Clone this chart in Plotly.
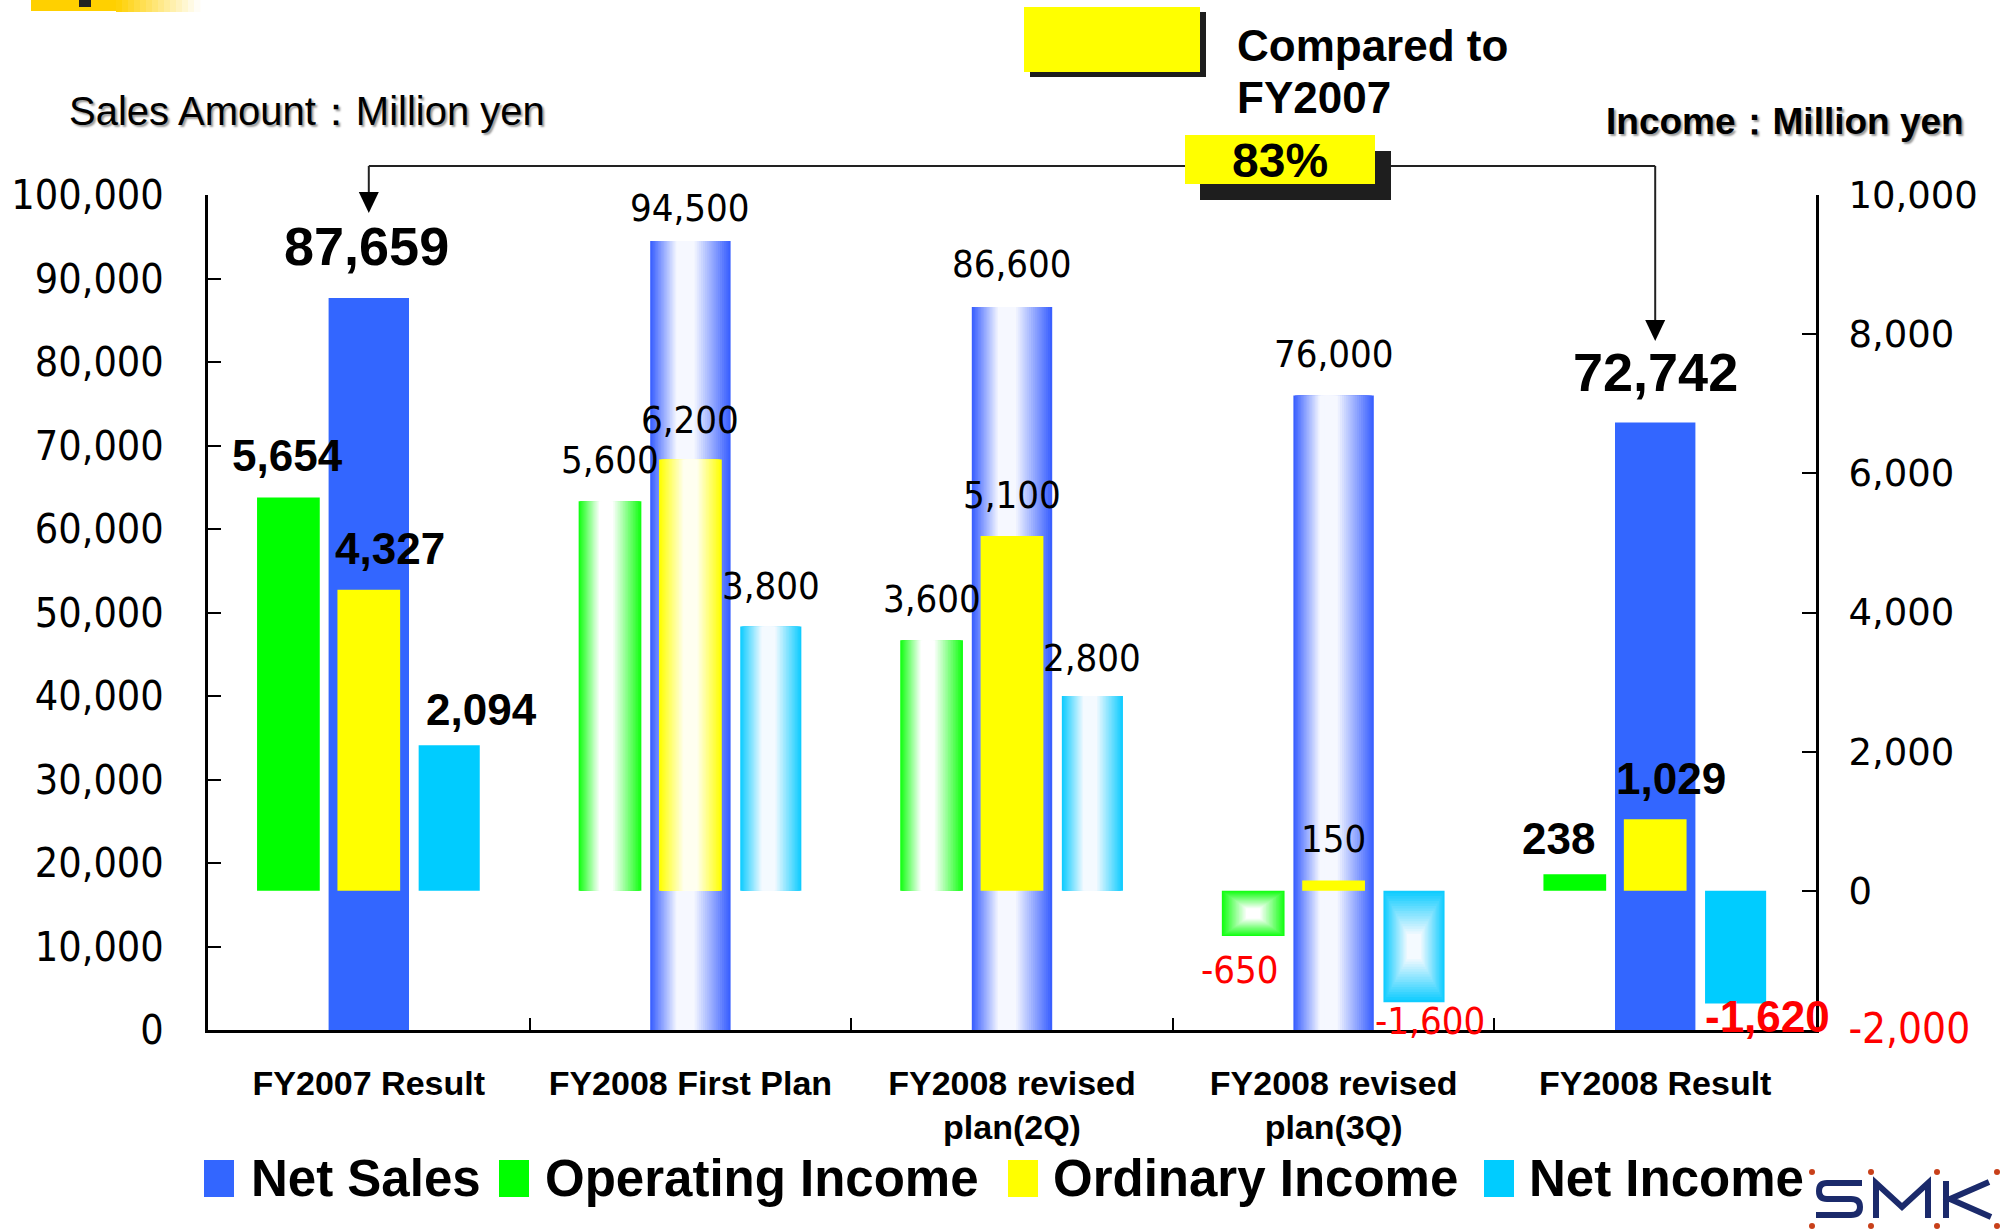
import plotly.graph_objects as go

# ---- data -------------------------------------------------------------
categories = [
    "FY2007 Result",
    "FY2008 First Plan",
    "FY2008 revised<br>plan(2Q)",
    "FY2008 revised<br>plan(3Q)",
    "FY2008 Result",
]
net_sales = [87659, 94500, 86600, 76000, 72742]          # left axis
operating_income = [5654, 5600, 3600, -650, 238]         # right axis
ordinary_income = [4327, 6200, 5100, 150, 1029]          # right axis
net_income = [2094, 3800, 2800, -1600, -1620]            # right axis

sales_ticks = list(range(0, 100001, 10000))
income_ticks = list(range(-2000, 10001, 2000))

ratio_text = "83%"

# ---- page geometry ----------------------------------------------------
W, H = 2002, 1230
ML, MR, MT, MB = 208, 186, 195, 200
PW, PH = W - ML - MR, H - MT - MB


def px(X):
    return (X - ML) / PW


def py(Y):
    return (H - MB - Y) / PH


NARROW = "DejaVu Sans Condensed, Liberation Sans Narrow, Arial Narrow, sans-serif"
SANS = "Liberation Sans, Arial, sans-serif"
WIDE = "DejaVu Sans, Verdana, sans-serif"


def mix(c1, c2, t):
    a = [int(c1[i:i + 2], 16) for i in (1, 3, 5)]
    b = [int(c2[i:i + 2], 16) for i in (1, 3, 5)]
    return "#" + "".join(f"{round(a[i] + (b[i] - a[i]) * t):02x}" for i in range(3))


# per-series styling: fill per category ('solid', 'h' = horizontal sheen, 'box' = framed glow)
series = [
    dict(name="Net Sales", values=net_sales, axis="y", solid="#3366FF", edge="#3A60FF",
         center="#F6F8FF", width=0.25, off=0.0, p=0.42,
         fill=["solid", "h", "h", "h", "solid"]),
    dict(name="Operating Income", values=operating_income, axis="y2", solid="#00FF00",
         edge="#14FF14", center="#FFFFFF", width=0.195, off=-0.25, p=0.42,
         fill=["solid", "h", "h", "box", "solid"]),
    dict(name="Ordinary Income", values=ordinary_income, axis="y2", solid="#FFFF00",
         edge="#FFFF00", center="#FFFFF0", width=0.195, off=0.0, p=0.5,
         fill=["solid", "h", "solid", "solid", "solid"]),
    dict(name="Net Income", values=net_income, axis="y2", solid="#00CCFF",
         edge="#10CCFF", center="#F4FAFF", width=0.19, off=0.25, p=0.45,
         fill=["solid", "h", "h", "box", "solid"]),
]

fig = go.Figure()
N_LAYERS = 22

for s in series:
    # plain coloured bars
    idx = [i for i, f in enumerate(s["fill"]) if f == "solid"]
    fig.add_trace(go.Bar(
        x=idx, y=[s["values"][i] for i in idx], base=[0] * len(idx),
        offset=[s["off"] - s["width"] / 2] * len(idx), width=[s["width"]] * len(idx),
        marker=dict(color=s["solid"], line=dict(width=0)),
        yaxis=s["axis"], name=s["name"], showlegend=False, hoverinfo="x+y",
    ))
    # shaded bars built up from nested layers
    for i, f in enumerate(s["fill"]):
        if f == "solid":
            continue
        v = s["values"][i]
        y0, y1 = (0, v) if v >= 0 else (v, 0)
        p = s["p"] if f == "h" else 0.5
        w = s["width"]
        xc = i + s["off"]
        for k in range(N_LAYERS):
            t = k / N_LAYERS
            left = xc - w / 2 + t * p * w
            right = xc + w / 2 - t * (1 - p) * w
            if f == "box":
                h = y1 - y0
                b0, b1 = y0 + t * h / 2, y1 - t * h / 2
            else:
                b0, b1 = y0, y1
            col = mix(s["edge"], s["center"], min(1.0, t * 1.3))
            fig.add_trace(go.Bar(
                x=[i], y=[b1 - b0], base=[b0], offset=[left - i], width=[right - left],
                marker=dict(color=col, line=dict(width=0)),
                yaxis=s["axis"], showlegend=False, hoverinfo="skip",
            ))

# ---- value labels -----------------------------------------------------
label_dx = {
    "Net Sales": [-0.008, 0, 0, 0, 0],
    "Operating Income": [-0.254, -0.25, -0.25, -0.29, -0.30],
    "Ordinary Income": [0.067, 0, 0, 0, 0.048],
    "Net Income": [0.349, 0.25, 0.25, 0.30, 0.35],
}
label_dy = {
    "Net Sales": [52, 33, 43, 41, 51],
    "Operating Income": [42, 41, 41, -34, 36],
    "Ordinary Income": [41, 39, 41, 41, 41],
    "Net Income": [36, 40, 38, -19, -13],
}
result_cats = {0, 4}

annotations = []
for s in series:
    for i, v in enumerate(s["values"]):
        bold = i in result_cats
        if bold:
            size = 54 if s["name"] == "Net Sales" else 44
            font = dict(family=SANS, size=size, weight="bold")
        else:
            font = dict(family=NARROW, size=38)
        font["color"] = "#FF0000" if v < 0 else "#000000"
        annotations.append(dict(
            x=i + label_dx[s["name"]][i], y=v, xref="x", yref=s["axis"],
            yshift=label_dy[s["name"]][i], text=f"{v:,}", showarrow=False,
            xanchor="center", yanchor="middle", font=font,
        ))

# ---- header texts -----------------------------------------------------
shadow = "2px 2px 2px #9a9a9a"
annotations += [
    dict(x=px(67), y=py(111), xref="paper", yref="paper", xanchor="left", yanchor="middle",
         text="Sales Amount：Million yen", showarrow=False,
         font=dict(family=SANS, size=40, color="#000000", shadow=shadow)),
    dict(x=px(1604), y=py(122), xref="paper", yref="paper", xanchor="left", yanchor="middle",
         text="Income：Million yen", showarrow=False,
         font=dict(family=SANS, size=37, color="#000000", weight="bold", shadow=shadow)),
    dict(x=px(1235), y=py(46), xref="paper", yref="paper", xanchor="left", yanchor="middle",
         text="Compared to", showarrow=False,
         font=dict(family=SANS, size=44, color="#000000", weight="bold")),
    dict(x=px(1235), y=py(97), xref="paper", yref="paper", xanchor="left", yanchor="middle",
         text="FY2007", showarrow=False,
         font=dict(family=SANS, size=44, color="#000000", weight="bold")),
    dict(x=px(1280), y=py(160), xref="paper", yref="paper", xanchor="center", yanchor="middle",
         text=ratio_text, showarrow=False,
         font=dict(family=SANS, size=48, color="#000000", weight="bold")),
]

# ---- legend (drawn by hand for large swatches) ------------------------
legend_items = [
    (204, 249, "Net Sales", "#3366FF"),
    (499, 543, "Operating Income", "#00FF00"),
    (1008, 1051, "Ordinary Income", "#FFFF00"),
    (1484, 1527, "Net Income", "#00CCFF"),
]
shapes = []

# connector between the two results
y_line = py(166)
shapes += [
    dict(type="line", xref="x", yref="paper", x0=0, x1=0, y0=y_line, y1=py(200),
         line=dict(color="#222222", width=2)),
    dict(type="line", xref="x", yref="paper", x0=0, x1=4, y0=y_line, y1=y_line,
         line=dict(color="#222222", width=2)),
    dict(type="line", xref="x", yref="paper", x0=4, x1=4, y0=y_line, y1=py(330),
         line=dict(color="#222222", width=2)),
]
for cat, tip in ((0, 213), (4, 341)):
    shapes.append(dict(
        type="path", xref="x", yref="paper", xsizemode="pixel", ysizemode="pixel",
        xanchor=cat, yanchor=py(tip), path="M -10,21 L 10,21 L 0,0 Z",
        fillcolor="#000000", line=dict(width=0),
    ))


def rect(X0, Y0, X1, Y1, color):
    return dict(type="rect", xref="paper", yref="paper", x0=px(X0), x1=px(X1),
                y0=py(Y1), y1=py(Y0), fillcolor=color, line=dict(width=0), layer="above")


# boxes at the top
shapes += [
    rect(1030, 12, 1206, 77, "#1e1e1e"),
    rect(1024, 7, 1200, 72, "#FFFF00"),
    rect(1200, 151, 1391, 200, "#1e1e1e"),
    rect(1185, 135, 1375, 184, "#FFFF00"),
]

# top-left page band
GOLD = "#FFD000"
shapes.append(rect(31, 0, 117, 11, GOLD))
for k in range(14):
    x0 = 116 + k * 6
    shapes.append(rect(x0, 0, x0 + 6.5, 12, mix(GOLD, "#FFFFFF", (k + 0.5) / 14)))
shapes.append(rect(79, 0, 91, 7, "#222222"))

for sx, tx, label, col in legend_items:
    shapes.append(rect(sx, 1160, sx + 30, 1197, col))
    annotations.append(dict(
        x=px(tx), y=py(1178), xref="paper", yref="paper", xanchor="left", yanchor="middle",
        text=label, showarrow=False,
        font=dict(family=SANS, size=51, color="#000000", weight="bold"),
    ))


# company mark
def path_px(cmds):
    out = []
    for c, pts in cmds:
        coords = []
        for j in range(0, len(pts), 2):
            coords.append(f"{px(pts[j]):.5f},{py(pts[j + 1]):.5f}")
        out.append(c + " " + " ".join(coords))
    return " ".join(out)


NAVY = "#1b2a6b"
logo_paths = [
    [("M", (1862, 1183)), ("L", (1827, 1183)), ("Q", (1819, 1183, 1819, 1191)),
     ("Q", (1819, 1199, 1827, 1199)), ("L", (1851, 1199)), ("Q", (1860, 1199, 1860, 1207)),
     ("Q", (1860, 1215, 1851, 1215)), ("L", (1816, 1215))],
    [("M", (1876, 1218)), ("L", (1876, 1183)), ("L", (1902, 1207)), ("L", (1928, 1183)),
     ("L", (1928, 1218))],
    [("M", (1946, 1181)), ("L", (1946, 1218)), ("M", (1989, 1182)), ("L", (1950, 1199)),
     ("L", (1991, 1217))],
]
for pth in logo_paths:
    shapes.append(dict(type="path", xref="paper", yref="paper", path=path_px(pth),
                       line=dict(color=NAVY, width=6), fillcolor="rgba(0,0,0,0)"))
for dx in (1812, 1871, 1937, 1997):
    for dy in (1172, 1226):
        shapes.append(dict(type="circle", xref="paper", yref="paper",
                           x0=px(dx - 3), x1=px(dx + 3), y0=py(dy + 3), y1=py(dy - 3),
                           fillcolor="#c8401a", line=dict(width=0)))

# ---- axes & layout ----------------------------------------------------
income_ticktext = [
    (f'<span style="color:#FF0000;font-family:DejaVu Sans Condensed;font-size:42px">{v:,}</span>'
     if v < 0 else f"{v:,}")
    for v in income_ticks
]

fig.update_layout(
    template="none",
    width=W, height=H,
    margin=dict(l=ML, r=MR, t=MT, b=MB, pad=0),
    paper_bgcolor="#FFFFFF", plot_bgcolor="#FFFFFF",
    barmode="overlay",
    showlegend=False,
    font=dict(family=SANS, color="#000000"),
    xaxis=dict(
        range=[-0.5, 4.5], tickmode="array", tickvals=list(range(len(categories))),
        ticktext=categories, ticks="", showgrid=False, zeroline=False,
        showline=True, linecolor="#000000", linewidth=3, automargin=False,
        tickfont=dict(family=SANS, size=34, color="#000000", weight="bold"),
        ticklabelstandoff=21,
        minor=dict(tickmode="array", tickvals=[0.5, 1.5, 2.5, 3.5], ticks="inside",
                   ticklen=12, tickwidth=2, tickcolor="#000000", showgrid=False),
    ),
    yaxis=dict(
        range=[0, 100000], tickmode="array", tickvals=sales_ticks,
        ticktext=[f"{v:,}" for v in sales_ticks], ticks="inside", ticklen=13,
        tickwidth=2, tickcolor="#000000", showgrid=False, zeroline=False,
        showline=True, linecolor="#000000", linewidth=3, automargin=False,
        tickfont=dict(family=NARROW, size=41, color="#000000"),
        ticklabelstandoff=33,
    ),
    yaxis2=dict(
        overlaying="y", side="right", anchor="x",
        range=[-2000, 10000], tickmode="array", tickvals=income_ticks,
        ticktext=income_ticktext, ticks="inside", ticklen=14,
        tickwidth=2, tickcolor="#000000", showgrid=False, zeroline=False,
        showline=True, linecolor="#000000", linewidth=3, automargin=False,
        tickfont=dict(family=WIDE, size=37, color="#000000"),
        ticklabelstandoff=22,
    ),
    shapes=shapes,
    annotations=annotations,
)

fig.write_html("out.html")
